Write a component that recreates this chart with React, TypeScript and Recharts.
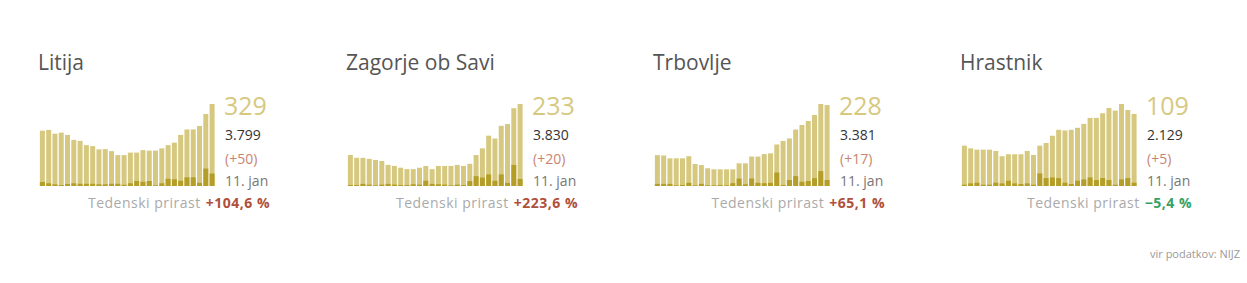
import React from 'react';
import { BarChart, Bar, XAxis, YAxis } from 'recharts';

// 28 days: 15. dec – 11. jan
const days = [
  '15. dec', '16. dec', '17. dec', '18. dec', '19. dec', '20. dec', '21. dec',
  '22. dec', '23. dec', '24. dec', '25. dec', '26. dec', '27. dec', '28. dec',
  '29. dec', '30. dec', '31. dec', '1. jan', '2. jan', '3. jan', '4. jan',
  '5. jan', '6. jan', '7. jan', '8. jan', '9. jan', '10. jan', '11. jan',
];

const municipalities = ['Litija', 'Zagorje ob Savi', 'Trbovlje', 'Hrastnik'];

const litijaActive = [222, 225, 210, 214, 205, 185, 181, 164, 160, 147, 148, 140, 124, 124, 134, 134, 144, 142, 142, 151, 164, 174, 205, 227, 227, 241, 289, 329];
const litijaNew = [16, 11, 7, 4, 8, 11, 9, 9, 9, 7, 7, 9, 9, 5, 11, 20, 17, 20, 3, 11, 29, 27, 21, 35, 35, 13, 70, 50];

const zagorjeActive = [88, 80, 80, 77, 74, 71, 60, 57, 52, 48, 48, 52, 57, 48, 57, 57, 57, 60, 57, 63, 88, 107, 143, 135, 171, 176, 221, 233];
const zagorjeNew = [3, 3, 6, 4, 2, 4, 6, 4, 3, 3, 5, 4, 15, 6, 5, 4, 2, 4, 3, 14, 28, 24, 33, 15, 33, 9, 60, 20];

const trbovljeActive = [87, 86, 78, 78, 78, 84, 62, 59, 50, 47, 47, 47, 47, 64, 64, 83, 83, 90, 92, 117, 127, 134, 159, 172, 183, 200, 231, 228];
const trbovljeNew = [6, 6, 6, 2, 3, 9, 2, 6, 2, 2, 3, 2, 8, 21, 5, 21, 9, 8, 9, 38, 3, 17, 28, 12, 14, 22, 42, 17];

const hrastnikActive = [61, 57, 55, 55, 55, 53, 45, 48, 48, 48, 53, 47, 61, 65, 76, 85, 84, 85, 88, 94, 103, 103, 110, 118, 114, 124, 115, 109];
const hrastnikNew = [2, 4, 5, 2, 2, 5, 4, 8, 4, 3, 4, 2, 19, 12, 13, 12, 5, 3, 8, 10, 13, 9, 12, 9, 2, 10, 12, 5];

const headlineLabels = ['329', '233', '228', '109'];
const totalLabels = ['3.799', '3.830', '3.381', '2.129'];
const newLabels = ['(+50)', '(+20)', '(+17)', '(+5)'];
const dateLabels = ['11. jan', '11. jan', '11. jan', '11. jan'];
const growthLabels = ['+104,6 %', '+223,6 %', '+65,1 %', '\u22125,4 %'];
const growthPositive = [true, true, true, false];

const activeSeries = [litijaActive, zagorjeActive, trbovljeActive, hrastnikActive];
const newSeries = [litijaNew, zagorjeNew, trbovljeNew, hrastnikNew];

const FONT = '"Open Sans", "Noto Sans", sans-serif';
const LIGHT = '#d6c97f';
const DARK = '#b49e28';

const panelLeft = [38, 346, 653, 960];

function Panel({ i }: { i: number }) {
  const data = days.map((d, k) => ({ day: d, active: activeSeries[i][k], fresh: newSeries[i][k] }));
  const left = panelLeft[i];
  return (
    <div style={{ position: 'absolute', left: left + 1, top: 104, width: 176, height: 82 }}>
      <BarChart width={176} height={82} data={data} margin={{ top: 0, right: 0, bottom: 0, left: 0 }} barCategoryGap="14%">
        <XAxis dataKey="day" xAxisId={0} hide />
        <XAxis dataKey="day" xAxisId={1} hide />
        <YAxis hide domain={[0, 'dataMax']} />
        <Bar dataKey="active" xAxisId={0} fill={LIGHT} isAnimationActive={false} />
        <Bar dataKey="fresh" xAxisId={1} fill={DARK} isAnimationActive={false} />
      </BarChart>
    </div>
  );
}

export default function App() {
  return (
    <div style={{ position: 'absolute', left: 0, top: 0, width: 1247, height: 283, background: '#fff', overflow: 'hidden' }}>
      {municipalities.map((_, i) => <Panel key={i} i={i} />)}
      <svg width={1247} height={283} style={{ position: 'absolute', left: 0, top: 0, pointerEvents: 'none' }} fontFamily={FONT}>
        {municipalities.map((name, i) => {
          const x = panelLeft[i];
          const nx = x + 187;
          const rx = x + 232;
          return (
            <g key={name}>
              <text x={x} y={70} fontSize={21} fill="#555">{name}</text>
              <text x={nx - 1} y={115} fontSize={25} fill={LIGHT}>{headlineLabels[i]}</text>
              <text x={nx} y={140} fontSize={14} fill="#333">{totalLabels[i]}</text>
              <text x={nx} y={164} fontSize={14} fill="#c98470">{newLabels[i]}</text>
              <text x={nx} y={186} fontSize={14} fill="#777">{dateLabels[i]}</text>
              <text x={rx} y={208} fontSize={14} letterSpacing={0.5} textAnchor="end" fill="#aaa">
                Tedenski prirast
                <tspan dx={5} fontWeight={700} fill={growthPositive[i] ? '#b0503a' : '#35a266'}>{growthLabels[i]}</tspan>
              </text>
            </g>
          );
        })}
        <text x={1240} y={258} fontSize={11} textAnchor="end" fill="#999">vir podatkov: NIJZ</text>
      </svg>
    </div>
  );
}
